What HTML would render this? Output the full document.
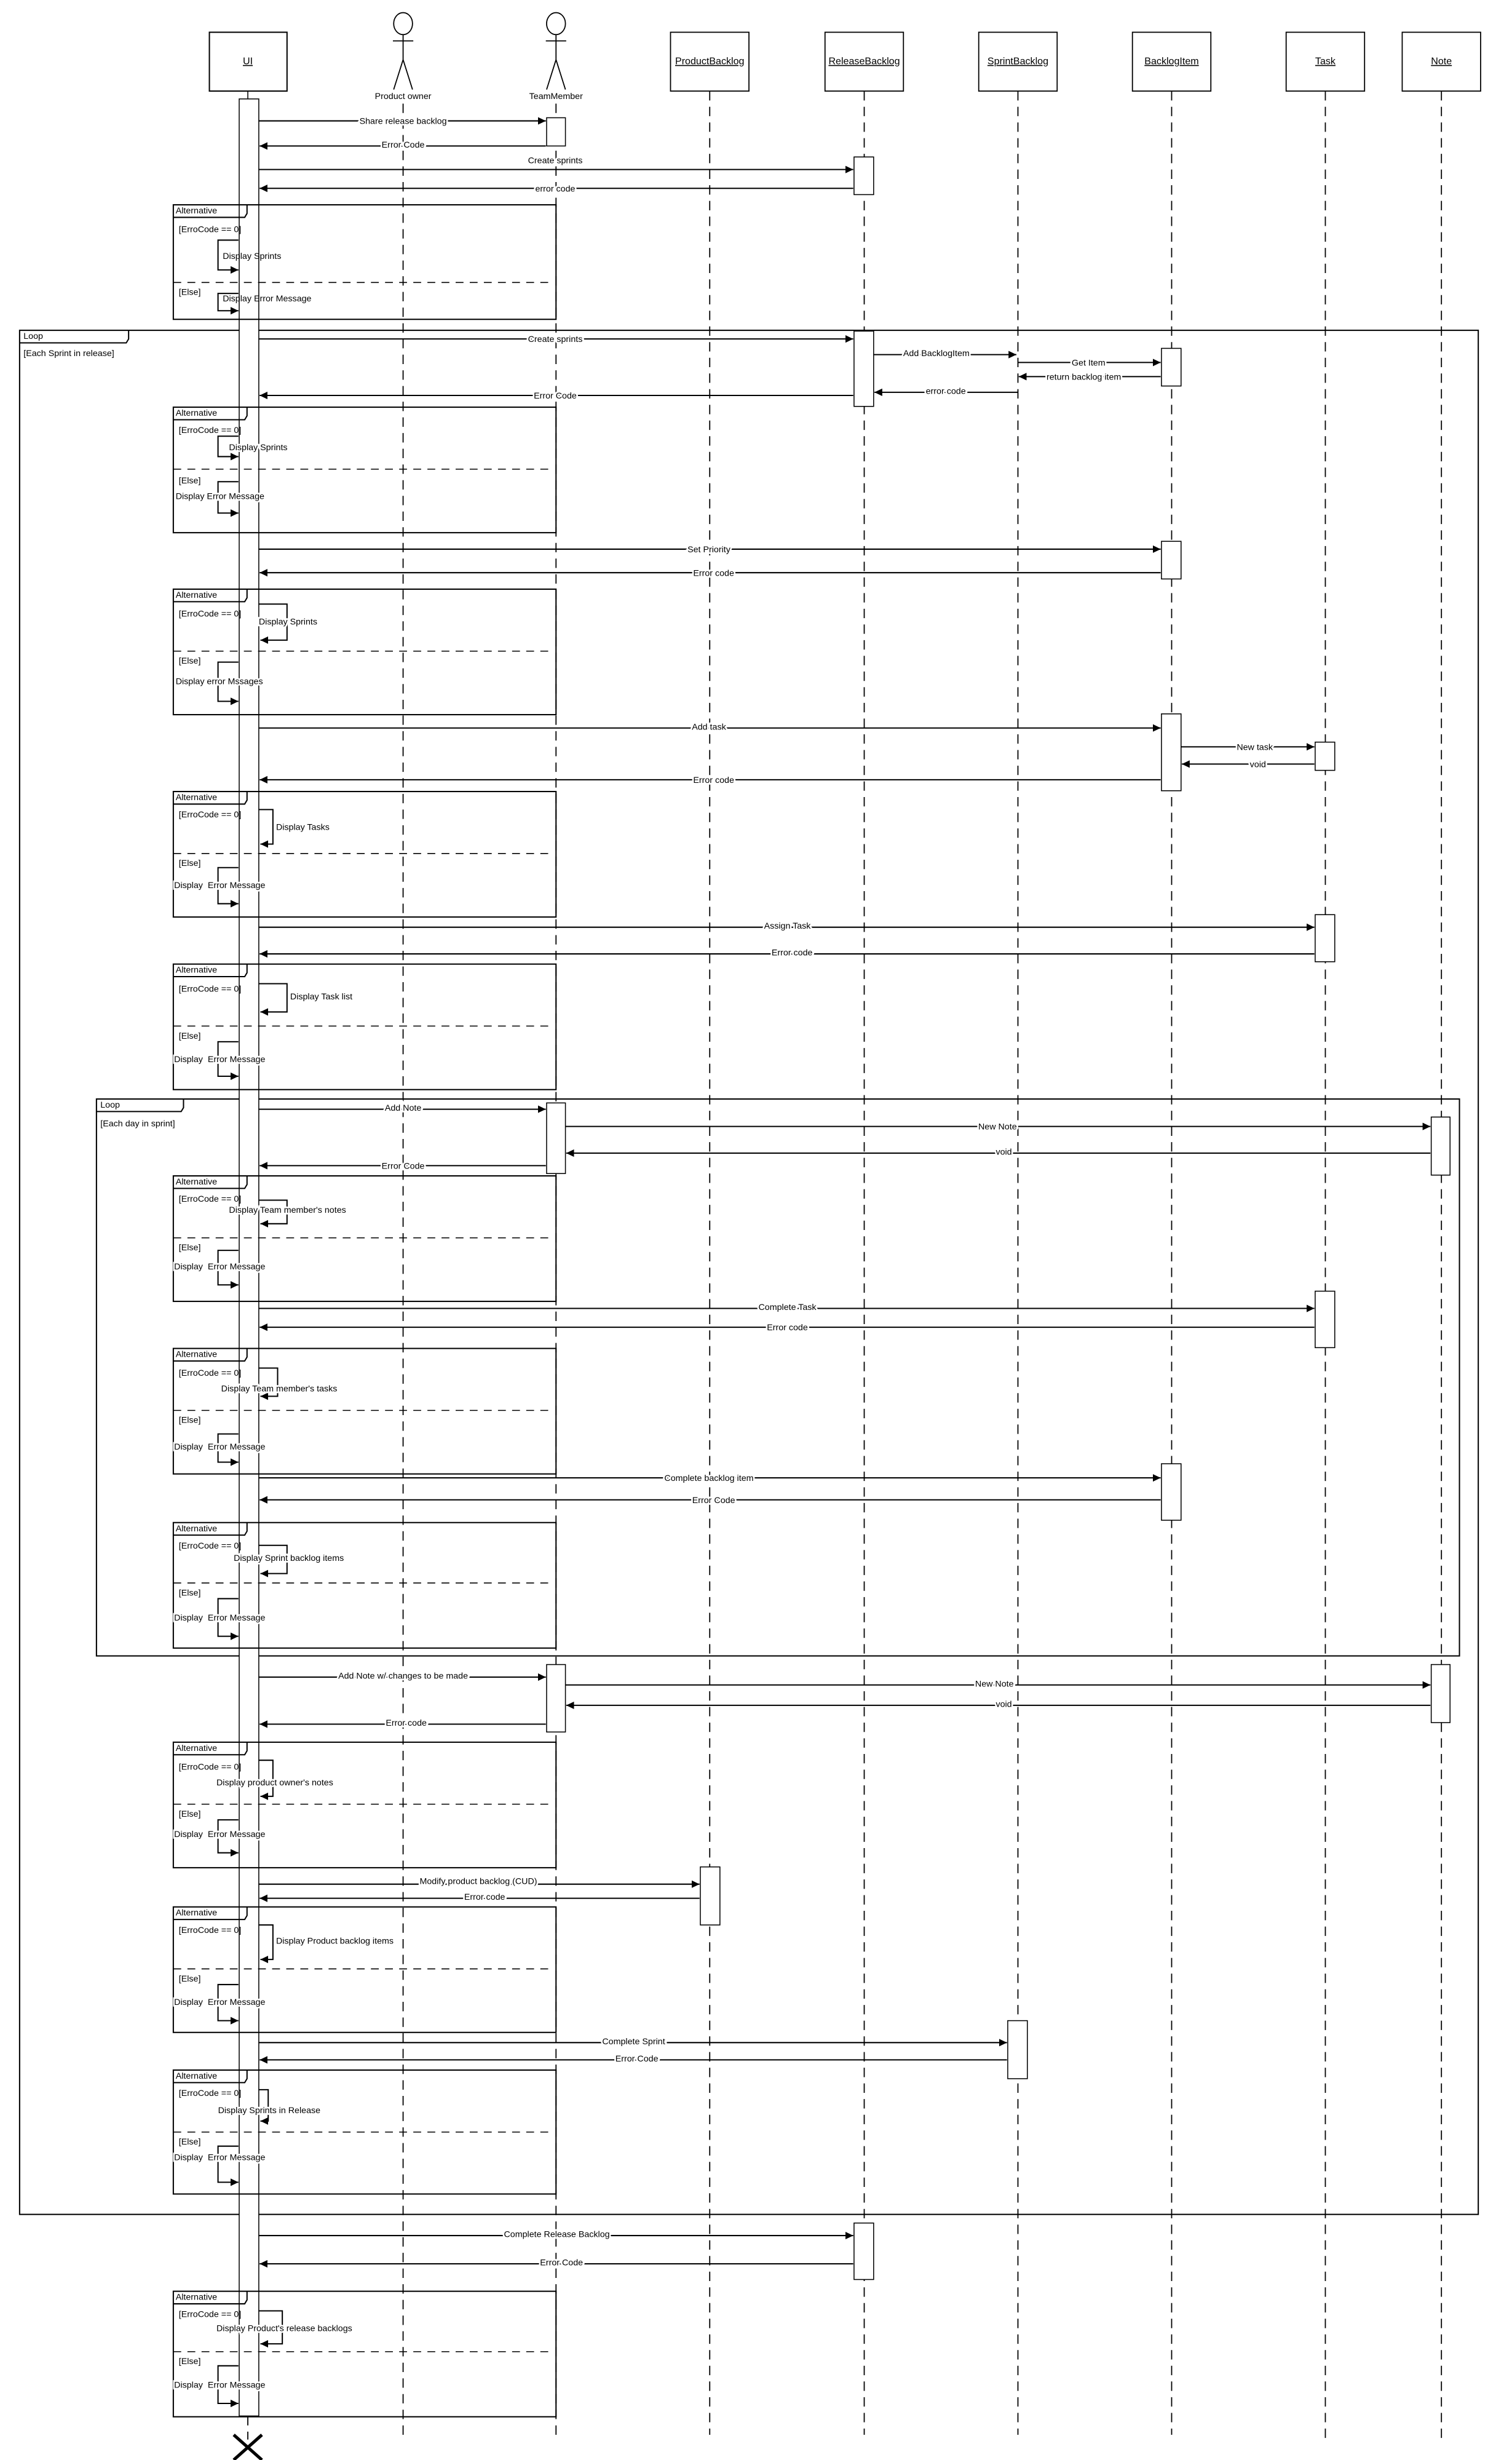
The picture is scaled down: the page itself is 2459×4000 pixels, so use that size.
<!DOCTYPE html>
<html><head><meta charset="utf-8"><style>
html,body{margin:0;padding:0;background:#fff}
svg{display:block}
text{font-family:"Liberation Sans Narrow","Liberation Sans",sans-serif;font-size:5.6px;fill:#000;white-space:pre}
.h{font-size:6.3px;text-decoration:underline}
.lb{paint-order:stroke;stroke:#fff;stroke-width:2.2px}
.ll{stroke:#000;stroke-width:0.7;stroke-dasharray:6 4;fill:none}
.fr{fill:none;stroke:#000;stroke-width:0.8}
.sep{stroke:#000;stroke-width:0.6;stroke-dasharray:5 4}
.m{stroke:#000;stroke-width:0.8;fill:none;marker-end:url(#a)}
.act{fill:#fff;stroke:#000;stroke-width:0.6}
</style></head><body>
<svg xmlns="http://www.w3.org/2000/svg" width="2459" height="4000" viewBox="0 0 964 1568">
<defs><marker id="a" markerUnits="userSpaceOnUse" markerWidth="6" markerHeight="6" refX="5" refY="3" orient="auto"><path d="M0,0.6 L5,3 L0,5.4 Z" fill="#000"/></marker></defs>
<rect width="964" height="1568" fill="#fff"/>

<!-- lifelines -->
<path class="ll" d="M257,66V1552M354.5,66V1552M452.5,58V1552M551,58V1552M649,58V1552M747,58V1552M845,58V1556M919,58V1556"/>
<path class="ll" d="M158,1540V1555"/>
<path d="M158,58V63" stroke="#000" stroke-width="0.6"/>

<!-- headers -->
<rect x="133.5" y="20.5" width="49.5" height="37.5" class="fr" stroke-width="0.6"/>
<text class="h" x="158" y="41" text-anchor="middle">UI</text>
<g fill="none" stroke="#000" stroke-width="0.7">
<ellipse cx="257" cy="15" rx="6" ry="7"/><path d="M257,22V38M250.5,26H263.5M257,38L251,57M257,38L263,57"/>
<ellipse cx="354.5" cy="15" rx="6" ry="7"/><path d="M354.5,22V38M348,26H361M354.5,38L348.5,57M354.5,38L360.5,57"/>
</g>
<text x="257" y="63" text-anchor="middle">Product owner</text>
<text x="354.5" y="63" text-anchor="middle">TeamMember</text>
<g fill="#fff" stroke="#000" stroke-width="0.7">
<rect x="427.5" y="20.5" width="50" height="37.5"/><rect x="526" y="20.5" width="50" height="37.5"/>
<rect x="624" y="20.5" width="50" height="37.5"/><rect x="722" y="20.5" width="50" height="37.5"/>
<rect x="820" y="20.5" width="50" height="37.5"/><rect x="894" y="20.5" width="50" height="37.5"/>
</g>
<text class="h" x="452.5" y="41" text-anchor="middle">ProductBacklog</text>
<text class="h" x="551" y="41" text-anchor="middle">ReleaseBacklog</text>
<text class="h" x="649" y="41" text-anchor="middle">SprintBacklog</text>
<text class="h" x="747" y="41" text-anchor="middle">BacklogItem</text>
<text class="h" x="845" y="41" text-anchor="middle">Task</text>
<text class="h" x="919" y="41" text-anchor="middle">Note</text>

<!-- loop frames -->
<rect x="12.5" y="210.5" width="930" height="1201" class="fr"/>
<path d="M12.5,218.5H80.5L82,216V210.5" class="fr"/>
<text x="15" y="216">Loop</text><text x="15" y="227">[Each Sprint in release]</text>
<rect x="61.5" y="700.5" width="869" height="355" class="fr"/>
<path d="M61.5,708.5H115.5L117,706V700.5" class="fr"/>
<text x="64" y="706">Loop</text><text x="64" y="718">[Each day in sprint]</text>

<!-- UI activation -->
<rect x="152.5" y="63" width="12.5" height="1477" class="act" stroke-width="0.8"/>

<!-- alternative frames -->
<g>
<rect x="110.5" y="130.5" width="244" height="73" class="fr"/><path d="M110.5,138.5H156L157.5,136V130.5" class="fr"/><text x="112" y="136">Alternative</text>
<text x="114" y="148">[ErroCode == 0]</text><line x1="110.5" y1="180" x2="352" y2="180" class="sep"/><text x="114" y="188">[Else]</text>

<rect x="110.5" y="259.5" width="244" height="80" class="fr"/><path d="M110.5,267.5H156L157.5,265V259.5" class="fr"/><text x="112" y="265">Alternative</text>
<text x="114" y="276">[ErroCode == 0]</text><line x1="110.5" y1="299" x2="352" y2="299" class="sep"/><text x="114" y="308">[Else]</text>

<rect x="110.5" y="375.5" width="244" height="80" class="fr"/><path d="M110.5,383.5H156L157.5,381V375.5" class="fr"/><text x="112" y="381">Alternative</text>
<text x="114" y="393">[ErroCode == 0]</text><line x1="110.5" y1="415" x2="352" y2="415" class="sep"/><text x="114" y="423">[Else]</text>

<rect x="110.5" y="504.5" width="244" height="80" class="fr"/><path d="M110.5,512.5H156L157.5,510V504.5" class="fr"/><text x="112" y="510">Alternative</text>
<text x="114" y="521">[ErroCode == 0]</text><line x1="110.5" y1="544" x2="352" y2="544" class="sep"/><text x="114" y="552">[Else]</text>

<rect x="110.5" y="614.5" width="244" height="80" class="fr"/><path d="M110.5,622.5H156L157.5,620V614.5" class="fr"/><text x="112" y="620">Alternative</text>
<text x="114" y="632">[ErroCode == 0]</text><line x1="110.5" y1="654" x2="352" y2="654" class="sep" stroke-width="0.9"/><text x="114" y="662">[Else]</text>

<rect x="110.5" y="749.5" width="244" height="80" class="fr"/><path d="M110.5,757.5H156L157.5,755V749.5" class="fr"/><text x="112" y="755">Alternative</text>
<text x="114" y="766">[ErroCode == 0]</text><line x1="110.5" y1="789" x2="352" y2="789" class="sep"/><text x="114" y="797">[Else]</text>

<rect x="110.5" y="859.5" width="244" height="80" class="fr"/><path d="M110.5,867.5H156L157.5,865V859.5" class="fr"/><text x="112" y="865">Alternative</text>
<text x="114" y="877">[ErroCode == 0]</text><line x1="110.5" y1="899" x2="352" y2="899" class="sep" stroke-width="0.9"/><text x="114" y="907">[Else]</text>

<rect x="110.5" y="970.5" width="244" height="80" class="fr"/><path d="M110.5,978.5H156L157.5,976V970.5" class="fr"/><text x="112" y="976">Alternative</text>
<text x="114" y="987">[ErroCode == 0]</text><line x1="110.5" y1="1009" x2="352" y2="1009" class="sep" stroke-width="0.9"/><text x="114" y="1017">[Else]</text>

<rect x="110.5" y="1110.5" width="244" height="80" class="fr"/><path d="M110.5,1118.5H156L157.5,1116V1110.5" class="fr"/><text x="112" y="1116">Alternative</text>
<text x="114" y="1128">[ErroCode == 0]</text><line x1="110.5" y1="1150" x2="352" y2="1150" class="sep"/><text x="114" y="1158">[Else]</text>

<rect x="110.5" y="1215.5" width="244" height="80" class="fr"/><path d="M110.5,1223.5H156L157.5,1221V1215.5" class="fr"/><text x="112" y="1221">Alternative</text>
<text x="114" y="1232">[ErroCode == 0]</text><line x1="110.5" y1="1255" x2="352" y2="1255" class="sep"/><text x="114" y="1263">[Else]</text>

<rect x="110.5" y="1319.5" width="244" height="79" class="fr"/><path d="M110.5,1327.5H156L157.5,1325V1319.5" class="fr"/><text x="112" y="1325">Alternative</text>
<text x="114" y="1336">[ErroCode == 0]</text><line x1="110.5" y1="1359" x2="352" y2="1359" class="sep" stroke-width="0.9"/><text x="114" y="1367">[Else]</text>

<rect x="110.5" y="1460.5" width="244" height="80" class="fr"/><path d="M110.5,1468.5H156L157.5,1466V1460.5" class="fr"/><text x="112" y="1466">Alternative</text>
<text x="114" y="1477">[ErroCode == 0]</text><line x1="110.5" y1="1499" x2="352" y2="1499" class="sep"/><text x="114" y="1507">[Else]</text>
</g>

<!-- activations -->
<rect x="348.5" y="75" width="12" height="18" class="act"/>
<rect x="544.5" y="100" width="12.5" height="24" class="act"/>
<rect x="544.5" y="211" width="12.5" height="48" class="act"/>
<rect x="740.5" y="222" width="12.5" height="24" class="act"/>
<rect x="740.5" y="345" width="12.5" height="24" class="act"/>
<rect x="740.5" y="455" width="12.5" height="49" class="act"/>
<rect x="838.5" y="473" width="12.5" height="18" class="act"/>
<rect x="838.5" y="583" width="12.5" height="30" class="act"/>
<rect x="348.5" y="703" width="12" height="45" class="act"/>
<rect x="912.5" y="712" width="12" height="37" class="act"/>
<rect x="838.5" y="823" width="12.5" height="36" class="act"/>
<rect x="740.5" y="933" width="12.5" height="36" class="act"/>
<rect x="348.5" y="1061" width="12" height="43" class="act"/>
<rect x="912.5" y="1061" width="12" height="37" class="act"/>
<rect x="446.5" y="1190" width="12.5" height="37" class="act"/>
<rect x="642.5" y="1288" width="12.5" height="37" class="act"/>
<rect x="544.5" y="1417" width="12.5" height="36" class="act"/>

<!-- messages -->
<g>
<line class="m" x1="165" y1="77" x2="348" y2="77"/><text class="lb" x="257" y="79" text-anchor="middle">Share release backlog</text>
<line class="m" x1="348" y1="93" x2="165.5" y2="93"/><text class="lb" x="257" y="94" text-anchor="middle">Error Code</text>
<line class="m" x1="165" y1="108" x2="544" y2="108"/><text class="lb" x="354" y="104" text-anchor="middle">Create sprints</text>
<line class="m" x1="544" y1="120" x2="165.5" y2="120"/><text class="lb" x="354" y="122" text-anchor="middle">error code</text>

<line class="m" x1="165" y1="216" x2="544" y2="216"/><text class="lb" x="354" y="218" text-anchor="middle">Create sprints</text>
<line class="m" x1="557" y1="226" x2="648" y2="226"/><text class="lb" x="597" y="227" text-anchor="middle">Add BacklogItem</text>
<line class="m" x1="649" y1="231" x2="740" y2="231"/><text class="lb" x="694" y="233" text-anchor="middle">Get Item</text>
<line class="m" x1="740" y1="240" x2="649.5" y2="240"/><text class="lb" x="691" y="242" text-anchor="middle">return backlog item</text>
<line class="m" x1="649" y1="250" x2="557.5" y2="250"/><text class="lb" x="603" y="251" text-anchor="middle">error code</text>
<line class="m" x1="544" y1="252" x2="165.5" y2="252"/><text class="lb" x="354" y="254" text-anchor="middle">Error Code</text>

<line class="m" x1="165" y1="350" x2="740" y2="350"/><text class="lb" x="452" y="352" text-anchor="middle">Set Priority</text>
<line class="m" x1="740" y1="365" x2="165.5" y2="365"/><text class="lb" x="455" y="367" text-anchor="middle">Error code</text>

<line class="m" x1="165" y1="464" x2="740" y2="464"/><text class="lb" x="452" y="465" text-anchor="middle">Add task</text>
<line class="m" x1="753" y1="476" x2="838" y2="476"/><text class="lb" x="800" y="478" text-anchor="middle">New task</text>
<line class="m" x1="838" y1="487" x2="753.5" y2="487"/><text class="lb" x="802" y="489" text-anchor="middle">void</text>
<line class="m" x1="740" y1="497" x2="165.5" y2="497"/><text class="lb" x="455" y="499" text-anchor="middle">Error code</text>

<line class="m" x1="165" y1="591" x2="838" y2="591"/><text class="lb" x="502" y="592" text-anchor="middle">Assign Task</text>
<line class="m" x1="838" y1="608" x2="165.5" y2="608"/><text class="lb" x="505" y="609" text-anchor="middle">Error code</text>

<line class="m" x1="165" y1="707" x2="348" y2="707"/><text class="lb" x="257" y="708" text-anchor="middle">Add Note</text>
<line class="m" x1="360.5" y1="718" x2="912" y2="718"/><text class="lb" x="636" y="720" text-anchor="middle">New Note</text>
<line class="m" x1="912" y1="735" x2="361" y2="735"/><text class="lb" x="640" y="736" text-anchor="middle">void</text>
<line class="m" x1="348" y1="743" x2="165.5" y2="743"/><text class="lb" x="257" y="745" text-anchor="middle">Error Code</text>

<line class="m" x1="165" y1="834" x2="838" y2="834"/><text class="lb" x="502" y="835" text-anchor="middle">Complete Task</text>
<line class="m" x1="838" y1="846" x2="165.5" y2="846"/><text class="lb" x="502" y="848" text-anchor="middle">Error code</text>

<line class="m" x1="165" y1="942" x2="740" y2="942"/><text class="lb" x="452" y="944" text-anchor="middle">Complete backlog item</text>
<line class="m" x1="740" y1="956" x2="165.5" y2="956"/><text class="lb" x="455" y="958" text-anchor="middle">Error Code</text>

<line class="m" x1="165" y1="1069" x2="348" y2="1069"/><text class="lb" x="257" y="1070" text-anchor="middle">Add Note w/ changes to be made</text>
<line class="m" x1="360.5" y1="1074" x2="912" y2="1074"/><text class="lb" x="634" y="1075" text-anchor="middle">New Note</text>
<line class="m" x1="912" y1="1087" x2="361" y2="1087"/><text class="lb" x="640" y="1088" text-anchor="middle">void</text>
<line class="m" x1="348" y1="1099" x2="165.5" y2="1099"/><text class="lb" x="259" y="1100" text-anchor="middle">Error code</text>

<line class="m" x1="165" y1="1201" x2="446" y2="1201"/><text class="lb" x="305" y="1201" text-anchor="middle">Modify product backlog (CUD)</text>
<line class="m" x1="446" y1="1210" x2="165.5" y2="1210"/><text class="lb" x="309" y="1211" text-anchor="middle">Error code</text>

<line class="m" x1="165" y1="1302" x2="642" y2="1302"/><text class="lb" x="404" y="1303" text-anchor="middle">Complete Sprint</text>
<line class="m" x1="642" y1="1313" x2="165.5" y2="1313"/><text class="lb" x="406" y="1314" text-anchor="middle">Error Code</text>

<line class="m" x1="165" y1="1425" x2="544" y2="1425"/><text class="lb" x="355" y="1426" text-anchor="middle">Complete Release Backlog</text>
<line class="m" x1="544" y1="1443" x2="165.5" y2="1443"/><text class="lb" x="358" y="1444" text-anchor="middle">Error Code</text>
</g>

<!-- self messages -->
<g>
<path class="m" d="M152,153H139V172H152"/><text x="142" y="165">Display Sprints</text>
<path class="m" d="M152,187H139V198H152"/><text x="142" y="192">Display Error Message</text>

<path class="m" d="M152,278H139V291H152"/><text class="lb" x="146" y="287">Display Sprints</text>
<path class="m" d="M152,307H139V327H152"/><text class="lb" x="112" y="318">Display Error Message</text>

<path class="m" d="M165,385H183V408H166"/><text class="lb" x="165" y="398">Display Sprints</text>
<path class="m" d="M152,422H139V447H152"/><text class="lb" x="112" y="436">Display error Mssages</text>

<path class="m" d="M165,516H174V538H166"/><text class="lb" x="176" y="529">Display Tasks</text>
<path class="m" d="M152,553H139V576H152"/><text class="lb" x="111" y="566">Display  Error Message</text>

<path class="m" d="M165,627H183V645H166"/><text class="lb" x="185" y="637">Display Task list</text>
<path class="m" d="M152,664H139V686H152"/><text class="lb" x="111" y="677">Display  Error Message</text>

<path class="m" d="M165,765H183V780H166"/><text class="lb" x="146" y="773">Display Team member's notes</text>
<path class="m" d="M152,797H139V819H152"/><text class="lb" x="111" y="809">Display  Error Message</text>

<path class="m" d="M165,872H177V890H166"/><text class="lb" x="141" y="887">Display Team member's tasks</text>
<path class="m" d="M152,914H139V932H152"/><text class="lb" x="111" y="924">Display  Error Message</text>

<path class="m" d="M165,985H183V1003H166"/><text class="lb" x="149" y="995">Display Sprint backlog items</text>
<path class="m" d="M152,1019H139V1043H152"/><text class="lb" x="111" y="1033">Display  Error Message</text>

<path class="m" d="M165,1122H174V1145H166"/><text class="lb" x="138" y="1138">Display product owner's notes</text>
<path class="m" d="M152,1160H139V1181H152"/><text class="lb" x="111" y="1171">Display  Error Message</text>

<path class="m" d="M165,1227H174V1249H166"/><text class="lb" x="176" y="1239">Display Product backlog items</text>
<path class="m" d="M152,1265H139V1288H152"/><text class="lb" x="111" y="1278">Display  Error Message</text>

<path class="m" d="M165,1332H171V1352H166"/><text class="lb" x="139" y="1347">Display Sprints in Release</text>
<path class="m" d="M152,1368H139V1391H152"/><text class="lb" x="111" y="1377">Display  Error Message</text>

<path class="m" d="M165,1473H180V1494H166"/><text class="lb" x="138" y="1486">Display Product's release backlogs</text>
<path class="m" d="M152,1508H139V1532H152"/><text class="lb" x="111" y="1522">Display  Error Message</text>
</g>

<!-- destroy -->
<path d="M149,1552L167,1568M167,1552L149,1568" stroke="#000" stroke-width="2"/>
</svg>
</body></html>
